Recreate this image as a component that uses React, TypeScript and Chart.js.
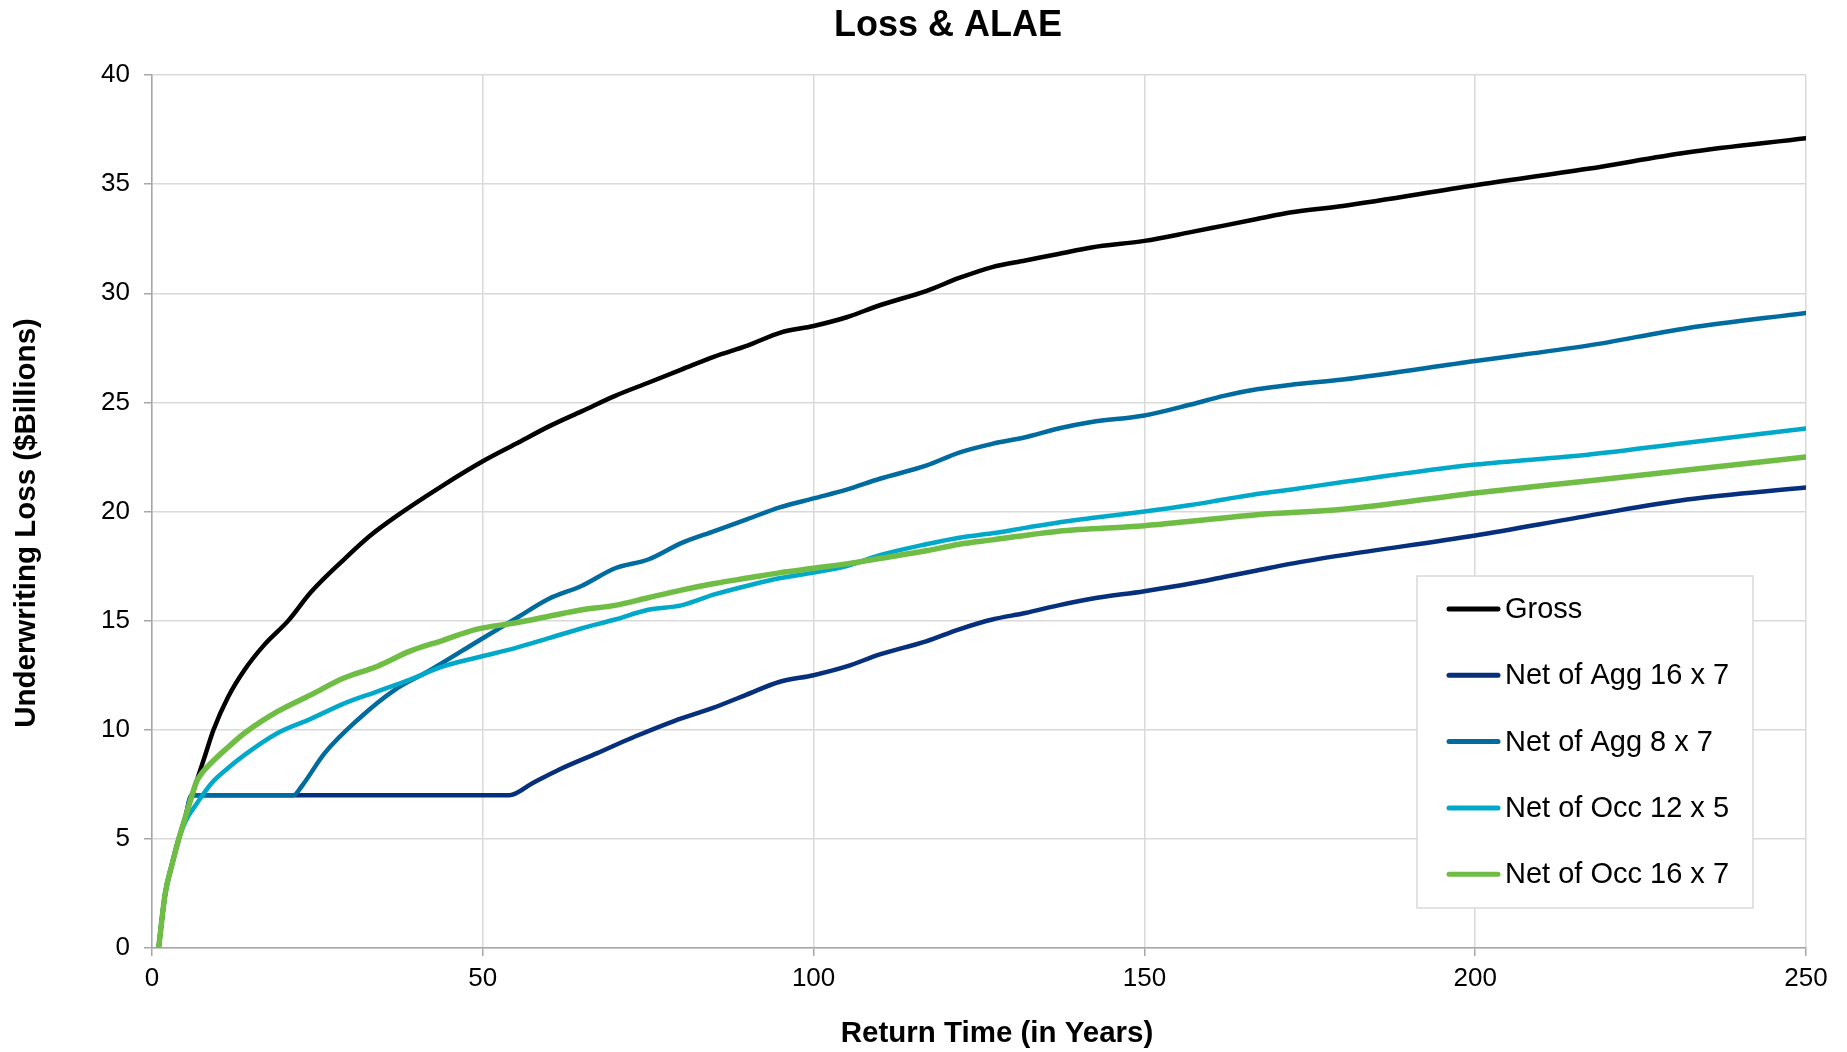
import React, { useEffect, useRef } from "react";
import { Chart, registerables } from "chart.js";

Chart.register(...registerables);

const FONT = '"Liberation Sans", Arial, Helvetica, sans-serif';

const TITLE = "Loss & ALAE";
const X_TITLE = "Return Time (in Years)";
const Y_TITLE = "Underwriting Loss ($Billions)";

const SERIES_LABELS = [
  "Gross",
  "Net of Agg 16 x 7",
  "Net of Agg 8 x 7",
  "Net of Occ 12 x 5",
  "Net of Occ 16 x 7",
];
const SERIES_COLORS = ["#000000", "#062f7c", "#006b9f", "#00a9c9", "#70bd45"];
const SERIES_WIDTHS = [4.5, 4.5, 4.5, 4.5, 5.5];

const X_MIN = 0;
const X_MAX = 250;
const X_STEP = 50;
const Y_MIN = 0;
const Y_MAX = 40;
const Y_STEP = 5;

// Gross
const grossX = [1, 2, 3, 4, 5, 6, 6.7, 8, 9.3, 11.5, 14, 17, 20.6, 24, 29, 33, 37, 44, 50, 55, 60, 65, 70, 75, 80, 85, 90, 95, 100, 105, 110, 117, 122, 127, 132, 137, 142, 150, 157, 162, 167, 172, 180, 200, 217, 232, 250];
const grossY = [0, 2.5, 3.8, 4.95, 5.95, 6.95, 7.6, 8.8, 10.0, 11.5, 12.75, 13.9, 15.0, 16.3, 17.8, 18.9, 19.8, 21.2, 22.3, 23.1, 23.9, 24.6, 25.3, 25.9, 26.5, 27.1, 27.6, 28.2, 28.5, 28.9, 29.45, 30.1, 30.7, 31.2, 31.5, 31.8, 32.1, 32.4, 32.8, 33.1, 33.4, 33.7, 34.0, 34.95, 35.7, 36.45, 37.1];

// Net of Agg 16 x 7
const agg16X = [1, 2, 3, 4, 5, 6, 54, 57.5, 61.5, 67.3, 73.1, 78.9, 84.8, 89.8, 94.9, 100, 105, 110, 117, 122, 127, 132, 137, 142, 150, 157, 162, 167, 172, 180, 200, 217, 232, 250];
const agg16Y = [0, 2.5, 3.8, 4.95, 5.95, 7.0, 7.0, 7.55, 8.17, 8.93, 9.7, 10.4, 11.0, 11.6, 12.2, 12.5, 12.9, 13.45, 14.05, 14.6, 15.05, 15.35, 15.7, 16.0, 16.35, 16.7, 17.0, 17.3, 17.6, 18.0, 18.9, 19.8, 20.55, 21.1];

// Net of Agg 8 x 7
const agg8X = [1, 2, 3, 4, 5, 6, 21.4, 22.6, 26.1, 31.1, 36.7, 41.7, 49.5, 55, 60, 65, 70, 75, 80, 85, 90, 95, 100, 105, 110, 117, 122, 127, 132, 137, 142, 150, 157, 162, 167, 172, 180, 200, 217, 232, 250];
const agg8Y = [0, 2.5, 3.8, 4.95, 5.95, 7.0, 7.0, 7.4, 8.93, 10.46, 11.83, 12.67, 14.1, 15.1, 16.0, 16.6, 17.4, 17.8, 18.55, 19.1, 19.65, 20.2, 20.6, 21.0, 21.5, 22.1, 22.7, 23.1, 23.4, 23.8, 24.1, 24.4, 24.9, 25.3, 25.6, 25.8, 26.05, 26.9, 27.6, 28.4, 29.1];

// Net of Occ 12 x 5
const occ12X = [1, 2, 3, 4, 4.7, 5.5, 6.5, 9, 11.5, 14, 19, 24, 29, 34, 39, 44, 49, 55, 60, 65, 70, 75, 80, 85, 90, 95, 100, 105, 110, 117, 122, 127, 132, 137, 142, 150, 157, 162, 167, 172, 180, 200, 217, 232, 250];
const occ12Y = [0, 2.5, 3.8, 4.95, 5.55, 6.05, 6.5, 7.55, 8.25, 8.85, 9.85, 10.5, 11.2, 11.75, 12.3, 12.9, 13.3, 13.75, 14.2, 14.65, 15.05, 15.5, 15.7, 16.2, 16.6, 16.95, 17.2, 17.5, 18.0, 18.5, 18.8, 19.0, 19.25, 19.5, 19.7, 20.0, 20.3, 20.55, 20.8, 21.0, 21.35, 22.15, 22.6, 23.15, 23.8];

// Net of Occ 16 x 7
const occ16X = [1, 2, 3, 4, 5, 6, 6.7, 7.5, 9, 11.5, 14, 19, 24, 29, 34, 39, 44, 49, 55, 60, 65, 70, 75, 80, 85, 90, 95, 100, 105, 110, 117, 122, 127, 137, 150, 157, 167, 180, 200, 217, 232, 250];
const occ16Y = [0, 2.5, 3.8, 4.95, 5.95, 6.95, 7.6, 8.0, 8.5, 9.2, 9.85, 10.84, 11.6, 12.37, 12.9, 13.6, 14.1, 14.6, 14.9, 15.2, 15.5, 15.7, 16.05, 16.4, 16.7, 16.95, 17.2, 17.4, 17.6, 17.85, 18.2, 18.5, 18.7, 19.1, 19.35, 19.55, 19.85, 20.1, 20.85, 21.4, 21.9, 22.5];

const SERIES_X = [grossX, agg16X, agg8X, occ12X, occ16X];
const SERIES_Y = [grossY, agg16Y, agg8Y, occ12Y, occ16Y];

function toPoints(xs: number[], ys: number[]) {
  return xs.map((x, i) => ({ x, y: ys[i] }));
}

const decorations = {
  id: "decorations",
  afterDraw(chart: any) {
    const ctx = chart.ctx as CanvasRenderingContext2D;
    ctx.save();
    ctx.fillStyle = "#000000";
    ctx.textAlign = "center";
    ctx.textBaseline = "middle";

    // Chart title
    ctx.font = `bold 36px ${FONT}`;
    ctx.fillText(TITLE, 948, 26);

    // Axis titles
    ctx.font = `bold 29.5px ${FONT}`;
    ctx.fillText(X_TITLE, 997, 1034);
    ctx.save();
    ctx.translate(27, 523);
    ctx.rotate(-Math.PI / 2);
    ctx.fillText(Y_TITLE, 0, 0);
    ctx.restore();

    // Legend box
    const bx = 1417;
    const by = 576;
    const bw = 336;
    const bh = 332;
    ctx.fillStyle = "#ffffff";
    ctx.fillRect(bx, by, bw, bh);
    ctx.strokeStyle = "#d9d9d9";
    ctx.lineWidth = 1.5;
    ctx.strokeRect(bx, by, bw, bh);
    chart.data.datasets.forEach((ds: any, i: number) => {
      const y = 609 + i * 66.3;
      ctx.strokeStyle = ds.borderColor;
      ctx.lineWidth = 5;
      ctx.lineCap = "round";
      ctx.beginPath();
      ctx.moveTo(1449, y);
      ctx.lineTo(1498, y);
      ctx.stroke();
      ctx.fillStyle = "#000000";
      ctx.font = `29px ${FONT}`;
      ctx.textBaseline = "middle";
      ctx.textAlign = "left";
      ctx.fillText(ds.label, 1505, y + 1);
    });
    ctx.restore();
  },
};

export default function App() {
  const canvasRef = useRef<HTMLCanvasElement | null>(null);

  useEffect(() => {
    const canvas = canvasRef.current;
    if (!canvas) return;
    const n = SERIES_LABELS.length;
    const chart = new Chart(canvas, {
      type: "line",
      data: {
        datasets: SERIES_LABELS.map((label, i) => ({
          label,
          data: toPoints(SERIES_X[i], SERIES_Y[i]),
          borderColor: SERIES_COLORS[i],
          backgroundColor: SERIES_COLORS[i],
          borderWidth: SERIES_WIDTHS[i],
          pointRadius: 0,
          cubicInterpolationMode: "monotone",
          fill: false,
          borderJoinStyle: "round",
          borderCapStyle: "round",
          order: n - 1 - i,
        })),
      },
      options: {
        responsive: false,
        animation: false,
        devicePixelRatio: 1,
        layout: { padding: { left: 0, right: 41, top: 75, bottom: 0 } },
        plugins: {
          legend: { display: false },
          tooltip: { enabled: false },
          title: { display: false },
        },
        scales: {
          x: {
            type: "linear",
            min: X_MIN,
            max: X_MAX,
            ticks: {
              stepSize: X_STEP,
              color: "#000000",
              font: { family: FONT, size: 26 },
              padding: 7,
              maxRotation: 0,
            },
            grid: {
              color: "#d9d9d9",
              lineWidth: 1.5,
              tickColor: "#a6a6a6",
              tickLength: 8,
              drawTicks: true,
            },
            border: { color: "#a6a6a6", width: 1.5 },
            title: { display: false, text: X_TITLE },
            afterFit: (s: any) => {
              s.height = 104;
            },
          },
          y: {
            type: "linear",
            min: Y_MIN,
            max: Y_MAX,
            ticks: {
              stepSize: Y_STEP,
              color: "#000000",
              font: { family: FONT, size: 26 },
              padding: 14,
            },
            grid: {
              color: "#d9d9d9",
              lineWidth: 1.5,
              tickColor: "#a6a6a6",
              tickLength: 8,
              drawTicks: true,
            },
            border: { color: "#a6a6a6", width: 1.5 },
            title: { display: false, text: Y_TITLE },
            afterFit: (s: any) => {
              s.width = 152;
            },
          },
        },
      } as any,
      plugins: [decorations],
    });
    return () => chart.destroy();
  }, []);

  return (
    <div
      style={{
        position: "absolute",
        left: 0,
        top: 0,
        width: 1847,
        height: 1052,
        background: "#ffffff",
      }}
    >
      <canvas ref={canvasRef} width={1847} height={1052} style={{ display: "block" }} />
    </div>
  );
}
